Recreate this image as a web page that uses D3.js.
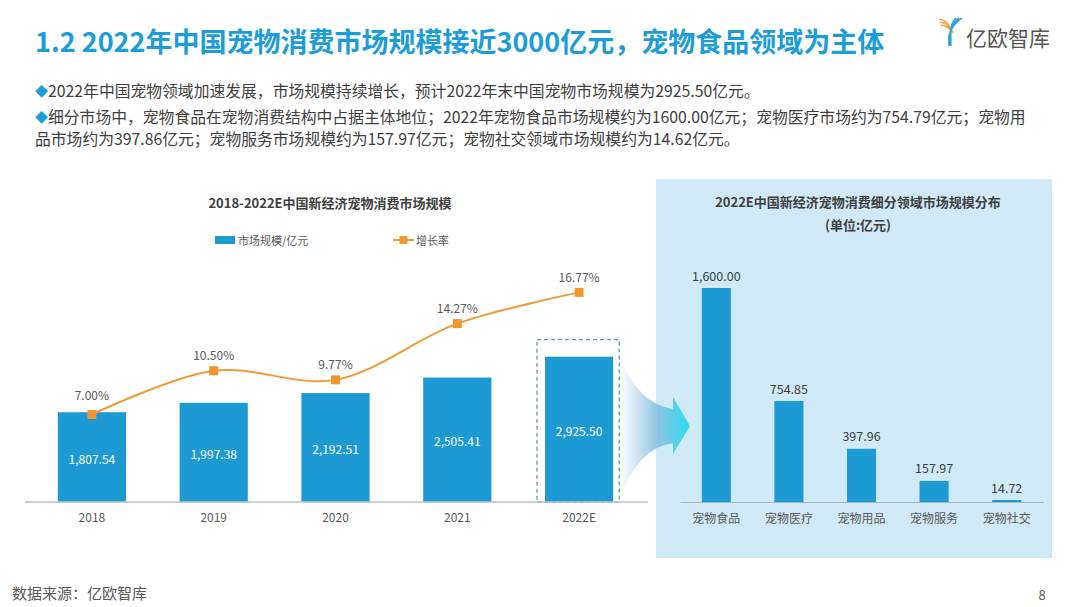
<!DOCTYPE html>
<html>
<head>
<meta charset="utf-8">
<script src="https://cdn.jsdelivr.net/npm/d3@7"></script>
<style>
  body { margin: 0; background: #fff; }
  svg { display: block; }
  text { font-family: "Noto Sans CJK SC", "Noto Sans", sans-serif; }
</style>
</head>
<body>
<svg id="chart" width="1080" height="607"></svg>
<script>
// data
var years = ['2018', '2019', '2020', '2021', '2022E'];
var marketSize = [1807.54, 1997.38, 2192.51, 2505.41, 2925.50];
var growthRate = [7.00, 10.50, 9.77, 14.27, 16.77];
var segments = ['宠物食品', '宠物医疗', '宠物用品', '宠物服务', '宠物社交'];
var segmentSize = [1600.00, 754.85, 397.96, 157.97, 14.72];

var pageTitle = '1.2 2022年中国宠物消费市场规模接近3000亿元，宠物食品领域为主体';
var bullets = [
    ['2022年中国宠物领域加速发展，市场规模持续增长，预计2022年末中国宠物市场规模为2925.50亿元。'],
    ['细分市场中，宠物食品在宠物消费结构中占据主体地位；2022年宠物食品市场规模约为1600.00亿元；宠物医疗市场约为754.79亿元；宠物用',
     '品市场约为397.86亿元；宠物服务市场规模约为157.97亿元；宠物社交领域市场规模约为14.62亿元。']
];

var blue = '#1d9ad4',
    orange = '#ee9a35',
    titleBlue = '#1c9dd8',
    grey = '#595959';

var fmtNum = d3.format(',.2f'),
    fmtPct = function(v) { return d3.format('.2f')(v) + '%'; };

var svg = d3.select('#chart');
var defs = svg.append('defs');

// ---------- header ----------
svg.append('text')
    .attr('x', 35).attr('y', 40)
    .attr('dominant-baseline', 'central')
    .attr('font-size', 27).attr('font-weight', 'bold')
    .attr('fill', titleBlue)
    .text(pageTitle);

// logo
var logo = svg.append('g').attr('fill', 'none').attr('stroke-width', 1.6);
[0, 3, 6].forEach(function(o) {
    logo.append('path')
        .attr('d', 'M' + (939 + o * 0.3) + ',' + (19 + o) + ' Q' + (948) + ',' + (20 + o) + ' ' + (951 + o * 0.4) + ',' + (31 + o * 0.3))
        .attr('stroke', '#f0a040');
    logo.append('path')
        .attr('d', 'M' + (962 - o) + ',18 Q' + (952 - o * 0.4) + ',24 ' + (951 + o * 0.3 - 2) + ',36 L' + (951 + o * 0.3 - 2) + ',46')
        .attr('stroke', '#2aa3d8');
});
svg.append('text')
    .attr('x', 966).attr('y', 37)
    .attr('dominant-baseline', 'central')
    .attr('font-size', 21)
    .attr('fill', '#555')
    .text('亿欧智库');

// bullets
var lineY = [90, 116, 138];
var li = 0;
bullets.forEach(function(b) {
    b.forEach(function(line, k) {
        var t = svg.append('text')
            .attr('x', 35).attr('y', lineY[li])
            .attr('dominant-baseline', 'central')
            .attr('font-size', 15.8)
            .attr('fill', '#404040');
        if (k === 0) t.append('tspan').attr('fill', titleBlue).attr('font-size', 13).text('◆');
        t.append('tspan').text(line);
        li++;
    });
});

// ---------- left chart ----------
var axisY = 502;

svg.append('text')
    .attr('x', 330).attr('y', 202)
    .attr('text-anchor', 'middle').attr('dominant-baseline', 'central')
    .attr('font-size', 13).attr('font-weight', 'bold')
    .attr('fill', '#404040')
    .text('2018-2022E中国新经济宠物消费市场规模');

// legend
var lg = svg.append('g');
lg.append('rect').attr('x', 215).attr('y', 236).attr('width', 20).attr('height', 8).attr('fill', blue);
lg.append('text').attr('x', 238).attr('y', 240).attr('dominant-baseline', 'central')
    .attr('font-size', 11).attr('fill', grey).text('市场规模/亿元');
lg.append('line').attr('x1', 393).attr('x2', 414).attr('y1', 240).attr('y2', 240)
    .attr('stroke', orange).attr('stroke-width', 2);
lg.append('rect').attr('x', 399.5).attr('y', 236).attr('width', 8).attr('height', 8).attr('fill', orange);
lg.append('text').attr('x', 416).attr('y', 240).attr('dominant-baseline', 'central')
    .attr('font-size', 11).attr('fill', grey).text('增长率');

var xLeft = d3.scaleBand()
    .domain(years)
    .range([31, 640])
    .paddingInner(0.44)
    .paddingOuter(0.22);

var yBar = d3.scaleLinear()
    .domain([0, 3000])
    .range([axisY, 353]);

var yRate = d3.scaleLinear()
    .domain([0, 20])
    .range([axisY, 252]);

var leftData = years.map(function(y, i) {
    return { year: y, size: marketSize[i], rate: growthRate[i] };
});

// dashed frame round the estimate year
var last = leftData[leftData.length - 1];
svg.append('rect')
    .attr('x', xLeft(last.year) - 8)
    .attr('y', yBar(last.size) - 17)
    .attr('width', xLeft.bandwidth() + 14)
    .attr('height', axisY - yBar(last.size) + 17)
    .attr('fill', 'none')
    .attr('stroke', '#5f9db2')
    .attr('stroke-width', 1.3)
    .attr('stroke-dasharray', '4,3');
svg.append('text')
    .attr('x', xLeft(last.year) + xLeft.bandwidth() + 15)
    .attr('y', 424)
    .attr('dominant-baseline', 'central')
    .attr('font-size', 11).attr('fill', '#555').text('-');

svg.append('g').selectAll('rect')
    .data(leftData).enter()
    .append('rect')
    .attr('x', function(d) { return xLeft(d.year); })
    .attr('y', function(d) { return yBar(d.size); })
    .attr('width', xLeft.bandwidth())
    .attr('height', function(d) { return axisY - yBar(d.size); })
    .attr('fill', blue);

svg.append('g').selectAll('text')
    .data(leftData).enter()
    .append('text')
    .attr('x', function(d) { return xLeft(d.year) + xLeft.bandwidth() / 2; })
    .attr('y', function(d) { return (yBar(d.size) + axisY) / 2 + 1; })
    .attr('text-anchor', 'middle').attr('dominant-baseline', 'central')
    .attr('font-size', 12).attr('fill', '#fff')
    .text(function(d) { return fmtNum(d.size); });

// axis
var xAxisL = svg.append('g')
    .attr('transform', 'translate(0,' + axisY + ')')
    .call(d3.axisBottom(xLeft).tickSize(0).tickPadding(11));
xAxisL.select('.domain').attr('d', 'M25,0H648').attr('stroke', '#bfbfbf').attr('stroke-width', 1.5);
xAxisL.selectAll('text').attr('font-size', 12).attr('fill', grey)
    .attr('font-family', '"Noto Sans CJK SC", sans-serif');

// growth line
var cx = function(d) { return xLeft(d.year) + xLeft.bandwidth() / 2; };
var line = d3.line()
    .x(cx)
    .y(function(d) { return yRate(d.rate); })
    .curve(d3.curveCatmullRom.alpha(0.5));

svg.append('path')
    .datum(leftData)
    .attr('d', line)
    .attr('fill', 'none')
    .attr('stroke', orange)
    .attr('stroke-width', 2);

svg.append('g').selectAll('rect')
    .data(leftData).enter()
    .append('rect')
    .attr('x', function(d) { return cx(d) - 4.5; })
    .attr('y', function(d) { return yRate(d.rate) - 4.5; })
    .attr('width', 9).attr('height', 9)
    .attr('fill', '#f0962f');

svg.append('g').selectAll('text')
    .data(leftData).enter()
    .append('text')
    .attr('x', cx)
    .attr('y', function(d) {
        // lift the label clear of its bar
        return Math.min(yRate(d.rate) - 16, yBar(d.size) - 18);
    })
    .attr('text-anchor', 'middle').attr('dominant-baseline', 'central')
    .attr('font-size', 12).attr('fill', grey)
    .text(function(d) { return fmtPct(d.rate); });

// ---------- right panel ----------
svg.append('rect')
    .attr('x', 656).attr('y', 179)
    .attr('width', 396).attr('height', 379)
    .attr('fill', '#cfe9f6');

// ---------- arrow (sits over the panel edge) ----------
var grad = defs.append('linearGradient')
    .attr('id', 'arrowGrad')
    .attr('gradientUnits', 'userSpaceOnUse')
    .attr('x1', 620).attr('x2', 690).attr('y1', 0).attr('y2', 0);
grad.append('stop').attr('offset', 0).attr('stop-color', '#ffffff');
grad.append('stop').attr('offset', 0.55).attr('stop-color', '#8cc3e3');
grad.append('stop').attr('offset', 1).attr('stop-color', '#2cdcf2');

svg.append('path')
    .attr('d', 'M620,357 Q638,404 673,409 L673,397 L690,426 L673,454 L673,443 Q638,448 620,497 Z')
    .attr('fill', 'url(#arrowGrad)');

svg.append('text')
    .attr('x', 858).attr('y', 201)
    .attr('text-anchor', 'middle').attr('dominant-baseline', 'central')
    .attr('font-size', 13).attr('font-weight', 'bold').attr('fill', '#404040')
    .text('2022E中国新经济宠物消费细分领域市场规模分布');
svg.append('text')
    .attr('x', 858).attr('y', 224)
    .attr('text-anchor', 'middle').attr('dominant-baseline', 'central')
    .attr('font-size', 13).attr('font-weight', 'bold').attr('fill', '#404040')
    .text('(单位:亿元)');

var xRight = d3.scaleBand()
    .domain(segments)
    .range([680, 1043])
    .paddingInner(0.6)
    .paddingOuter(0.3);

var yRight = d3.scaleLinear()
    .domain([0, 1600])
    .range([axisY, 288]);

var rightData = segments.map(function(s, i) { return { name: s, value: segmentSize[i] }; });

svg.append('g').selectAll('rect')
    .data(rightData).enter()
    .append('rect')
    .attr('x', function(d) { return xRight(d.name); })
    .attr('y', function(d) { return yRight(d.value); })
    .attr('width', xRight.bandwidth())
    .attr('height', function(d) { return axisY - yRight(d.value); })
    .attr('fill', blue);

svg.append('g').selectAll('text')
    .data(rightData).enter()
    .append('text')
    .attr('x', function(d) { return xRight(d.name) + xRight.bandwidth() / 2; })
    .attr('y', function(d) { return yRight(d.value) - 13; })
    .attr('text-anchor', 'middle').attr('dominant-baseline', 'central')
    .attr('font-size', 12.5).attr('fill', '#404040')
    .text(function(d) { return fmtNum(d.value); });

var xAxisR = svg.append('g')
    .attr('transform', 'translate(0,' + axisY + ')')
    .call(d3.axisBottom(xRight).tickSize(0).tickPadding(12));
xAxisR.select('.domain').attr('stroke', '#a6b8c2').attr('stroke-width', 1.2);
xAxisR.selectAll('text').attr('font-size', 12).attr('fill', grey)
    .attr('font-family', '"Noto Sans CJK SC", sans-serif');

// ---------- footer ----------
svg.append('text')
    .attr('x', 12).attr('y', 592)
    .attr('dominant-baseline', 'central')
    .attr('font-size', 15).attr('fill', grey)
    .text('数据来源：亿欧智库');
svg.append('text')
    .attr('x', 1042).attr('y', 594)
    .attr('text-anchor', 'middle').attr('dominant-baseline', 'central')
    .attr('font-size', 13).attr('fill', grey)
    .text('8');
</script>
</body>
</html>
